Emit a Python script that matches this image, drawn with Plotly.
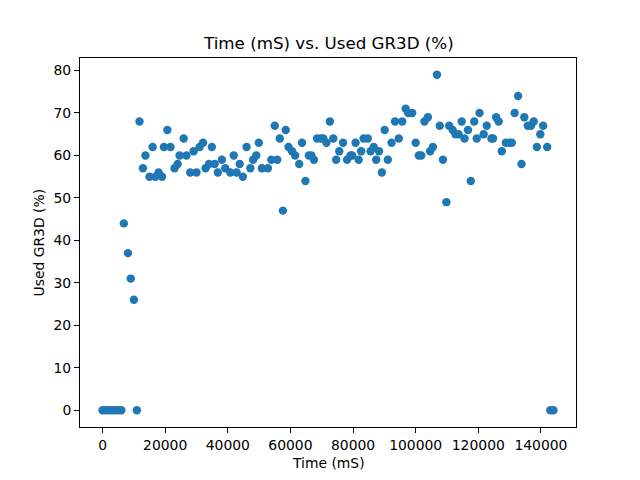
import plotly.graph_objects as go

# Values (x in mS, y in %)
time_ms = [0, 1000, 2000, 3000, 4000, 5000, 6000, 6800, 8100, 9000, 10000, 10960,
           11800, 12900, 13700, 15000, 16000, 16900, 17900, 19000, 19600, 20700, 21700,
           23000, 24000, 24600, 25900, 26800, 28000, 29100, 30000, 31000, 32100, 32900,
           34000, 34900, 35800, 36800, 38100, 39200, 40800, 41900, 42800, 43800, 44800,
           46000, 47200, 48100, 49100, 49900, 50900, 52800, 53900, 55000, 55800, 56600,
           57600, 58500, 59400, 60500, 61500, 62800, 63700, 64800, 65900, 66700, 67500,
           68500, 69700, 70500, 71500, 72600, 73700, 74600, 75600, 76800, 78100, 79200,
           79700, 80800, 81800, 82600, 83400, 84700, 85600, 86600, 87400, 88300, 89200,
           90100, 91100, 92300, 93400, 94600, 95700, 96800, 97600, 98900, 100000, 101000,
           101800, 102800, 103900, 104600, 105500, 106800, 107700, 108700, 109800,
           110700, 111800, 112700, 113700, 114700, 115600, 116700, 117600, 118700,
           119500, 120400, 121700, 122700, 124200, 124700, 125700, 126500, 127500,
           128800, 130000, 130700, 131600, 132700, 133800, 134700, 135800, 136800,
           137700, 138700, 139800, 140700, 142000, 143000, 144000]
gr3d_pct = [0, 0, 0, 0, 0, 0, 0, 44, 37, 31, 26, 0,
            68, 57, 60, 55, 62, 55, 56, 55, 62, 66, 62,
            57, 58, 60, 64, 60, 56, 61, 56, 62, 63, 57,
            58, 62, 58, 56, 59, 57, 56, 60, 56, 58, 55,
            62, 57, 59, 60, 63, 57, 57, 59, 67, 59, 64,
            47, 66, 62, 61, 60, 58, 63, 54, 60, 60, 59,
            64, 64, 64, 63, 68, 64, 59, 61, 63, 59, 60,
            60, 63, 59, 61, 64, 64, 61, 62, 59, 61, 56,
            66, 59, 63, 68, 64, 68, 71, 70, 70, 63, 60,
            60, 68, 69, 61, 62, 79, 67, 59, 49, 67,
            66, 65, 65, 68, 64, 66, 54, 68, 64,
            70, 65, 67, 64, 64, 69, 68, 61, 63,
            63, 63, 70, 74, 58, 69, 67, 67, 68,
            62, 65, 67, 62, 0, 0, 0]

x_ticks = [0, 20000, 40000, 60000, 80000, 100000, 120000, 140000]
y_ticks = [0, 10, 20, 30, 40, 50, 60, 70, 80]

title_text = "Time (mS) vs. Used GR3D (%)"
x_label = "Time (mS)"
y_label = "Used GR3D (%)"

FONT = "DejaVu Sans, Liberation Sans, sans-serif"

fig = go.Figure(go.Scatter(
    x=time_ms, y=gr3d_pct, mode="markers",
    marker=dict(color="#1f77b4", size=8.4, line=dict(width=0)),
    hoverinfo="skip",
))

axis_common = dict(
    showgrid=False, zeroline=False, showline=True, linecolor="black", linewidth=1,
    mirror=True, ticks="outside", ticklen=5, tickwidth=1, tickcolor="black",
    tickfont=dict(family=FONT, size=13.9, color="black"),
)

fig.update_layout(
    width=640, height=480,
    margin=dict(l=80, r=64, t=58, b=53, pad=0),
    paper_bgcolor="white", plot_bgcolor="white",
    showlegend=False,
    font=dict(family=FONT, color="black"),
    xaxis=dict(range=[-7200, 151200], tickvals=x_ticks,
               ticktext=[str(v) for v in x_ticks], **axis_common),
    yaxis=dict(range=[-3.95, 82.95], tickvals=y_ticks,
               ticktext=[str(v) for v in y_ticks], **axis_common),
    annotations=[
        dict(text=title_text, xref="paper", yref="paper", x=0.5, y=1,
             xanchor="center", yanchor="bottom", yshift=3, showarrow=False,
             font=dict(family=FONT, size=16.7, color="black")),
        dict(text=x_label, xref="paper", yref="paper", x=0.5, y=0,
             xanchor="center", yanchor="top", yshift=-26, showarrow=False,
             font=dict(family=FONT, size=13.9, color="black")),
        dict(text=y_label, xref="paper", yref="paper", x=0, y=0.5,
             xanchor="right", yanchor="middle", xshift=-32, textangle=-90,
             showarrow=False, font=dict(family=FONT, size=13.9, color="black")),
    ],
)

fig.write_html("out.html")
